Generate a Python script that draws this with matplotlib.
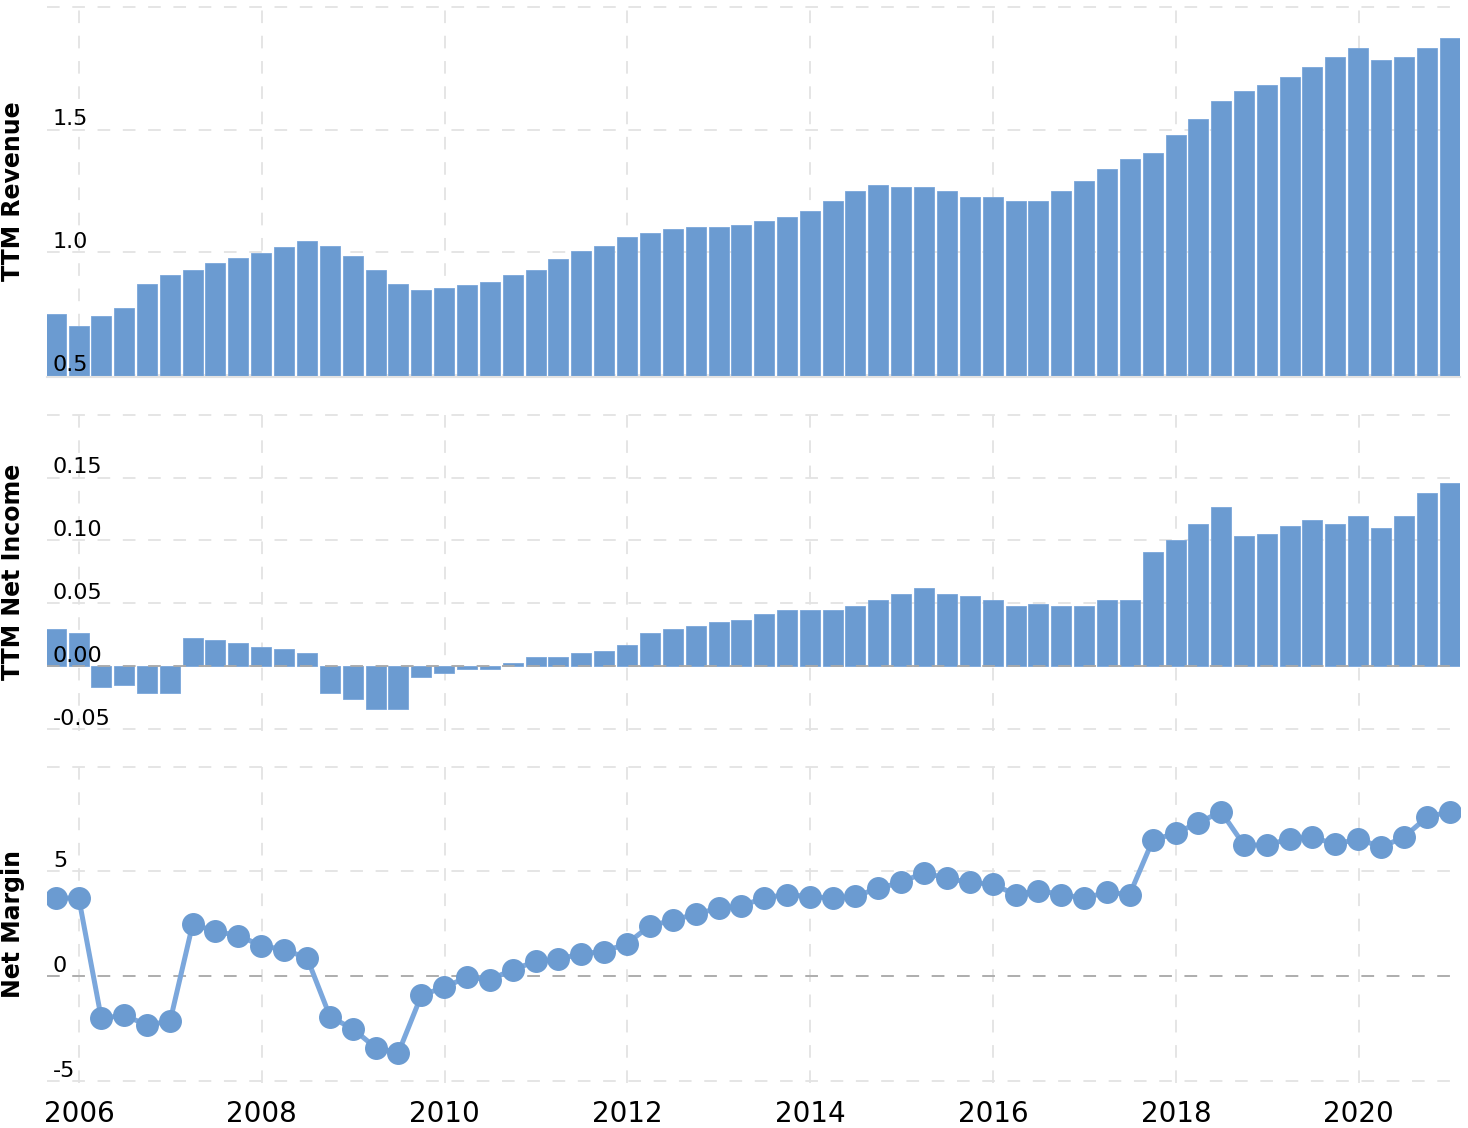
import matplotlib
matplotlib.use("Agg")
import matplotlib.pyplot as plt
import matplotlib.dates as mdates
import pandas as pd

# Quartalsenden 2005Q3 .. 2020Q4
quarters = pd.period_range("2005Q3", "2020Q4", freq="Q").end_time.normalize()

revenue = [0.749, 0.70, 0.741, 0.773, 0.872, 0.905, 0.929, 0.954, 0.978, 0.995,
           1.019, 1.044, 1.027, 0.986, 0.929, 0.872, 0.847, 0.855, 0.864, 0.880,
           0.905, 0.929, 0.970, 1.003, 1.027, 1.060, 1.077, 1.093, 1.101, 1.101,
           1.109, 1.126, 1.142, 1.167, 1.208, 1.249, 1.273, 1.265, 1.265, 1.249,
           1.224, 1.224, 1.208, 1.208, 1.249, 1.290, 1.339, 1.380, 1.405, 1.478,
           1.544, 1.618, 1.659, 1.683, 1.716, 1.757, 1.798, 1.831, 1.782, 1.798,
           1.831, 1.872]

net_income = [0.029, 0.0258, -0.0166, -0.015, -0.0213, -0.0213, 0.0226, 0.021, 0.0179, 0.0147,
              0.0132, 0.010, -0.0213, -0.026, -0.034, -0.034, -0.0087, -0.0055, -0.0024, -0.0024,
              0.002, 0.0068, 0.0068, 0.010, 0.0116, 0.0163, 0.0258, 0.029, 0.032, 0.0353,
              0.0368, 0.0416, 0.0447, 0.0447, 0.0447, 0.0479, 0.0526, 0.0574, 0.0621, 0.0574,
              0.0558, 0.0526, 0.0479, 0.0495, 0.0479, 0.0479, 0.0526, 0.0526, 0.0905, 0.100,
              0.1126, 0.1268, 0.1032, 0.1047, 0.111, 0.1158, 0.1126, 0.119, 0.1095, 0.119,
              0.138, 0.1458]

net_margin = [3.73, 3.73, -2.01, -1.86, -2.33, -2.14, 2.48, 2.15, 1.93, 1.46,
              1.26, 0.88, -1.93, -2.52, -3.41, -3.65, -0.91, -0.52, -0.05, -0.16,
              0.31, 0.71, 0.80, 1.08, 1.18, 1.56, 2.41, 2.67, 2.97, 3.25,
              3.35, 3.74, 3.90, 3.80, 3.73, 3.82, 4.20, 4.48, 4.95, 4.67,
              4.48, 4.39, 3.90, 4.09, 3.90, 3.73, 4.01, 3.90, 6.48, 6.84,
              7.31, 7.86, 6.26, 6.26, 6.56, 6.65, 6.29, 6.56, 6.16, 6.64,
              7.59, 7.86]

rev_ticks = [0.5, 1.0, 1.5, 2.0]
rev_labels = ["0.5", "1.0", "1.5", ""]
ni_ticks = [-0.05, 0.0, 0.05, 0.10, 0.15, 0.20]
ni_labels = ["-0.05", "0.00", "0.05", "0.10", "0.15", ""]
nm_ticks = [-5, 0, 5, 10]
nm_labels = ["-5", "0", "5", ""]

bar_color = "#6b9bd1"
line_color = "#7ba7dc"
grid_color = "#e3e3e3"

W, H = 1468, 1128
fig = plt.figure(figsize=(W / 100, H / 100), dpi=100)


def make_axes(top_px, bottom_px):
    left, right = 47, 1460
    return fig.add_axes([left / W, 1 - bottom_px / H, (right - left) / W, (bottom_px - top_px) / H])


ax1 = make_axes(5, 377)
ax2 = make_axes(412.7, 730.7)
ax3 = make_axes(764.7, 1083)

ax1.bar(quarters, revenue, width=80, color=bar_color, edgecolor="#7aa6da", linewidth=0.6, zorder=2)
ax2.bar(quarters, net_income, width=80, color=bar_color, edgecolor="#7aa6da", linewidth=0.6, zorder=2)
ax3.plot(quarters, net_margin, color=line_color, linewidth=3.6, zorder=2)
ax3.plot(quarters, net_margin, "o", color=bar_color, markersize=15.5, zorder=3)

ax1.set_ylim(0.4906, 2.0082)
ax2.set_ylim(-0.0516, 0.2016)
ax3.set_ylim(-5.095, 10.095)

panels = [(ax1, rev_ticks, rev_labels, "TTM Revenue"),
          (ax2, ni_ticks, ni_labels, "TTM Net Income"),
          (ax3, nm_ticks, nm_labels, "Net Margin")]

x_left = pd.Timestamp("2005-08-26")
x_right = pd.Timestamp("2021-02-09")

for ax, ticks, labels, title in panels:
    ax.set_xlim(x_left, x_right)
    ax.set_yticks(ticks)
    ax.tick_params(axis="y", length=0, labelleft=False)
    # Beschriftung innerhalb der Fläche, über den Balken
    for t, lab in zip(ticks, labels):
        ax.annotate(lab, xy=(0, t), xycoords=ax.get_yaxis_transform(),
                    xytext=(4.3, 3), textcoords="offset points",
                    ha="left", va="baseline", fontsize=16, zorder=6)
    ax.xaxis.set_major_locator(mdates.YearLocator(2))
    ax.xaxis.set_major_formatter(mdates.DateFormatter("%Y"))
    ax.tick_params(axis="x", length=0, pad=12, labelsize=20)
    ax.grid(True, color=grid_color, linewidth=1.3, linestyle=(0, (7, 7)))
    ax.set_axisbelow(True)
    for s in ax.spines.values():
        s.set_visible(False)
    ax.set_ylabel(title, fontsize=17, fontweight="bold")
    ax.yaxis.set_label_coords(-0.0155, 0.5)

ax1.tick_params(axis="x", labelbottom=False)
ax2.tick_params(axis="x", labelbottom=False)

ax1.spines["bottom"].set_visible(True)
ax1.spines["bottom"].set_color(grid_color)
ax1.spines["bottom"].set_linewidth(1.5)

ax2.axhline(0, color="#aaaaaa", linewidth=1.3, linestyle=(0, (7, 7)), zorder=3)
ax3.axhline(0, color="#aaaaaa", linewidth=1.3, linestyle=(0, (7, 7)), zorder=1)

fig.savefig("out.png", dpi=100, facecolor="white")
